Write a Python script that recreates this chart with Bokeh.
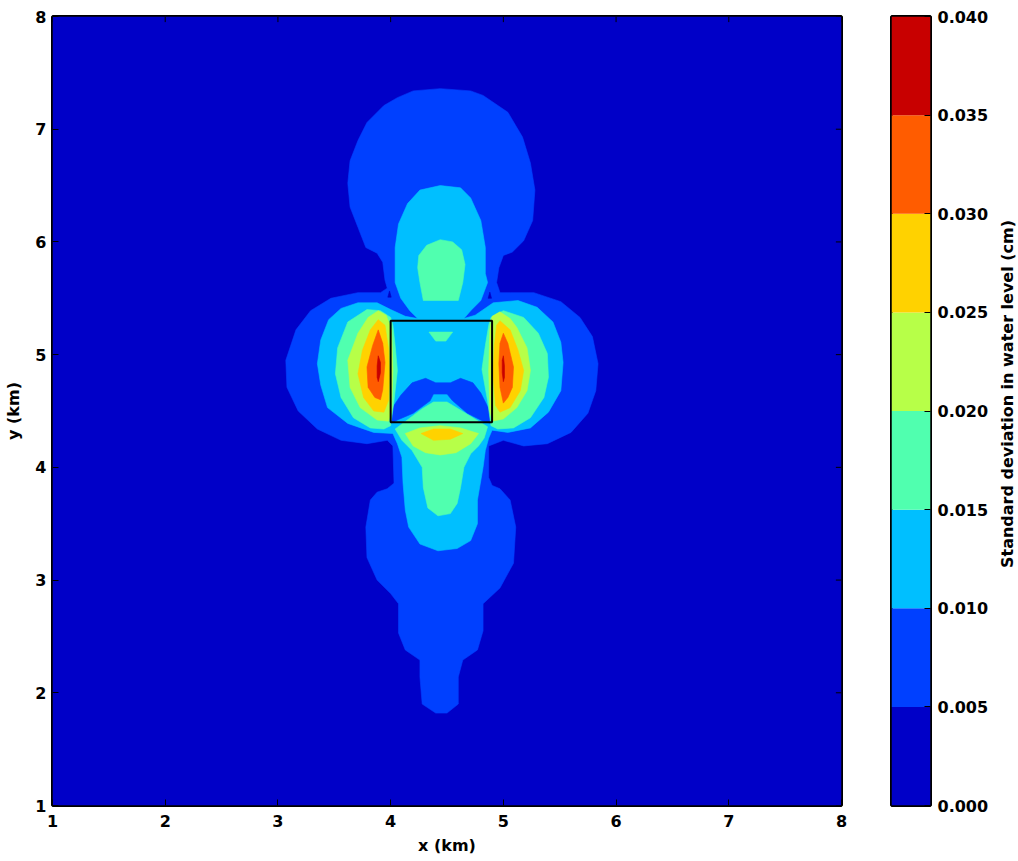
import math
from bokeh.plotting import figure
from bokeh.layouts import row
from bokeh.models import FixedTicker, NumeralTickFormatter, Range1d
from bokeh.core.properties import value
from bokeh.embed import file_html
from bokeh.resources import INLINE

# ---------------- data ----------------
levels = [0.000, 0.005, 0.010, 0.015, 0.020, 0.025, 0.030, 0.035, 0.040]
level_colors = ["#0000c8", "#0040ff", "#00bfff", "#50ffaf", "#b7ff48", "#ffd200", "#ff5c00", "#c80000"]
x_ticks = [1, 2, 3, 4, 5, 6, 7, 8]
y_ticks = [1, 2, 3, 4, 5, 6, 7, 8]
domain_x = [1.0, 8.0]
domain_y = [1.0, 8.0]
box_x = [4.0, 4.9]
box_y = [4.4, 5.3]
colorbar_title = "Standard deviation in water level (cm)"

# contour region >= 0.005
lvl1_x = [4.20, 4.06, 3.94, 3.79, 3.71, 3.64, 3.62, 3.64, 3.71, 3.78, 3.88, 3.93, 3.95, 3.97, 3.91, 3.71, 3.47, 3.29, 3.16, 3.07, 3.08, 3.18, 3.35, 3.56, 3.79, 3.97, 4.02, 4.03, 3.97, 3.88, 3.82, 3.78, 3.79, 3.88, 4.00, 4.07, 4.07, 4.13, 4.26, 4.26, 4.28, 4.40, 4.50, 4.60, 4.60, 4.64, 4.77, 4.82, 4.82, 4.97, 5.09, 5.11, 5.06, 4.97, 4.90, 4.87, 4.87, 5.00, 5.18, 5.39, 5.60, 5.75, 5.82, 5.84, 5.79, 5.68, 5.51, 5.27, 5.06, 4.97, 4.94, 4.96, 5.00, 5.08, 5.18, 5.26, 5.28, 5.24, 5.17, 5.04, 4.82, 4.71, 4.44]
lvl1_y = [7.34, 7.28, 7.21, 7.06, 6.90, 6.72, 6.52, 6.31, 6.13, 5.95, 5.90, 5.82, 5.66, 5.59, 5.55, 5.55, 5.50, 5.39, 5.22, 4.95, 4.71, 4.50, 4.34, 4.24, 4.21, 4.24, 4.19, 3.86, 3.81, 3.78, 3.71, 3.47, 3.20, 3.00, 2.88, 2.79, 2.53, 2.38, 2.29, 2.14, 1.90, 1.82, 1.82, 1.90, 2.14, 2.29, 2.38, 2.55, 2.79, 2.93, 3.15, 3.47, 3.71, 3.81, 3.84, 3.91, 4.19, 4.24, 4.19, 4.21, 4.31, 4.48, 4.68, 4.92, 5.16, 5.33, 5.47, 5.55, 5.55, 5.55, 5.64, 5.77, 5.88, 5.91, 6.01, 6.19, 6.46, 6.70, 6.93, 7.15, 7.30, 7.34, 7.36]
# small pockets < 0.005 inside it
hole0a_x = [3.99, 3.975, 4.005]
hole0a_y = [5.565, 5.51, 5.51]
hole0b_x = [4.88, 4.865, 4.895]
hole0b_y = [5.555, 5.50, 5.50]

# contour region >= 0.010
lvl2_x = [4.44, 4.62, 4.71, 4.80, 4.84, 4.84, 4.86, 4.80, 4.71, 4.65, 4.75, 4.91, 5.13, 5.30, 5.44, 5.51, 5.53, 5.51, 5.40, 5.24, 5.04, 4.90, 4.87, 4.84, 4.82, 4.77, 4.77, 4.71, 4.59, 4.42, 4.26, 4.16, 4.13, 4.11, 4.10, 4.06, 4.02, 3.85, 3.62, 3.44, 3.38, 3.35, 3.38, 3.45, 3.56, 3.71, 3.88, 4.00, 4.13, 4.24, 4.17, 4.09, 4.04, 4.04, 4.07, 4.15, 4.26]
lvl2_y = [6.50, 6.48, 6.39, 6.19, 5.95, 5.72, 5.64, 5.48, 5.39, 5.32, 5.35, 5.46, 5.48, 5.42, 5.29, 5.11, 4.93, 4.68, 4.49, 4.35, 4.31, 4.33, 4.26, 4.15, 4.00, 3.71, 3.50, 3.35, 3.28, 3.26, 3.32, 3.47, 3.62, 3.86, 4.09, 4.21, 4.30, 4.31, 4.39, 4.53, 4.73, 4.92, 5.13, 5.31, 5.41, 5.46, 5.46, 5.40, 5.34, 5.32, 5.39, 5.50, 5.64, 5.95, 6.16, 6.34, 6.46]
# pocket 0.005-0.010 inside the box
hole1_x = [4.19, 4.31, 4.40, 4.53, 4.62, 4.73, 4.80, 4.87, 4.89, 4.82, 4.68, 4.55, 4.50, 4.38, 4.35, 4.20, 4.06, 4.00, 4.01, 4.09]
hole1_y = [4.75, 4.79, 4.75, 4.75, 4.79, 4.75, 4.66, 4.52, 4.39, 4.41, 4.48, 4.59, 4.65, 4.65, 4.59, 4.48, 4.42, 4.39, 4.52, 4.64]

# contour regions >= 0.015
lvl3_top_x = [4.44, 4.55, 4.63, 4.66, 4.64, 4.60, 4.29, 4.26, 4.24, 4.25, 4.32]
lvl3_top_y = [6.02, 6.00, 5.93, 5.80, 5.64, 5.48, 5.48, 5.64, 5.77, 5.88, 5.97]
lvl3_box_x = [4.34, 4.55, 4.49, 4.40]
lvl3_box_y = [5.20, 5.20, 5.12, 5.12]
lvl3_left_x = [4.00, 3.91, 3.79, 3.62, 3.53, 3.51, 3.56, 3.67, 3.82, 3.94, 4.00, 4.03, 4.06, 4.04, 4.02]
lvl3_left_y = [5.33, 5.39, 5.40, 5.29, 5.06, 4.83, 4.62, 4.44, 4.35, 4.34, 4.37, 4.59, 4.86, 5.08, 5.26]
lvl3_right_x = [4.89, 5.00, 5.18, 5.31, 5.39, 5.40, 5.36, 5.24, 5.09, 4.95, 4.89, 4.86, 4.81, 4.84, 4.87]
lvl3_right_y = [5.33, 5.39, 5.33, 5.19, 5.01, 4.80, 4.62, 4.44, 4.35, 4.34, 4.37, 4.59, 4.87, 5.08, 5.26]
lvl3_bot_x = [4.38, 4.50, 4.60, 4.73, 4.86, 4.83, 4.78, 4.71, 4.65, 4.62, 4.59, 4.53, 4.42, 4.33, 4.29, 4.28, 4.19, 4.10, 4.04, 4.16, 4.28]
lvl3_bot_y = [4.58, 4.58, 4.52, 4.44, 4.36, 4.26, 4.19, 4.12, 4.00, 3.82, 3.68, 3.59, 3.57, 3.64, 3.82, 4.00, 4.15, 4.24, 4.34, 4.43, 4.52]

# contour regions >= 0.020
lvl4_left_x = [3.89, 3.96, 4.01, 4.02, 4.01, 3.98, 3.88, 3.73, 3.64, 3.62, 3.71, 3.80]
lvl4_left_y = [5.39, 5.35, 5.22, 4.86, 4.50, 4.41, 4.42, 4.53, 4.71, 4.95, 5.19, 5.33]
lvl4_right_x = [4.97, 5.06, 5.12, 5.21, 5.24, 5.21, 5.12, 5.00, 4.90, 4.88, 4.87, 4.88, 4.90]
lvl4_right_y = [5.38, 5.32, 5.24, 5.06, 4.86, 4.68, 4.53, 4.43, 4.41, 4.50, 4.86, 5.22, 5.34]
lvl4_bot_x = [4.13, 4.26, 4.44, 4.62, 4.78, 4.71, 4.58, 4.44, 4.31, 4.20]
lvl4_bot_y = [4.30, 4.35, 4.37, 4.35, 4.30, 4.21, 4.13, 4.11, 4.13, 4.19]

# contour regions >= 0.025
lvl5_left_x = [3.89, 3.95, 3.98, 3.99, 3.98, 3.94, 3.85, 3.76, 3.71, 3.75, 3.82]
lvl5_left_y = [5.31, 5.26, 5.06, 4.81, 4.59, 4.49, 4.50, 4.62, 4.83, 5.04, 5.22]
lvl5_right_x = [4.97, 5.06, 5.13, 5.18, 5.15, 5.06, 4.97, 4.93, 4.91, 4.92, 4.94]
lvl5_right_y = [5.30, 5.22, 5.04, 4.86, 4.68, 4.53, 4.49, 4.55, 4.82, 5.08, 5.26]
lvl5_bot_x = [4.27, 4.38, 4.53, 4.64, 4.53, 4.38]
lvl5_bot_y = [4.30, 4.34, 4.34, 4.30, 4.25, 4.24]

# contour regions >= 0.030
lvl6_left_x = [3.89, 3.93, 3.95, 3.93, 3.91, 3.86, 3.80, 3.79, 3.84]
lvl6_left_y = [5.22, 5.10, 4.93, 4.69, 4.60, 4.62, 4.71, 4.89, 5.08]
lvl6_right_x = [5.00, 5.04, 5.09, 5.08, 5.04, 5.00, 4.97, 4.96, 4.97]
lvl6_right_y = [5.19, 5.10, 4.89, 4.71, 4.62, 4.57, 4.71, 4.92, 5.10]

# contour regions >= 0.035
lvl7_left_x = [3.89, 3.91, 3.91, 3.89, 3.88, 3.88]
lvl7_left_y = [4.99, 4.93, 4.84, 4.76, 4.80, 4.90]
lvl7_right_x = [5.00, 5.01, 5.01, 5.00, 4.99, 4.99]
lvl7_right_y = [4.99, 4.90, 4.80, 4.76, 4.84, 4.95]

# draw order: (xs, ys, band index)
regions = [
    (lvl1_x, lvl1_y, 1),
    (hole0a_x, hole0a_y, 0),
    (hole0b_x, hole0b_y, 0),
    (lvl2_x, lvl2_y, 2),
    (hole1_x, hole1_y, 1),
    (lvl3_top_x, lvl3_top_y, 3),
    (lvl3_box_x, lvl3_box_y, 3),
    (lvl3_left_x, lvl3_left_y, 3),
    (lvl3_right_x, lvl3_right_y, 3),
    (lvl3_bot_x, lvl3_bot_y, 3),
    (lvl4_left_x, lvl4_left_y, 4),
    (lvl4_right_x, lvl4_right_y, 4),
    (lvl4_bot_x, lvl4_bot_y, 4),
    (lvl5_left_x, lvl5_left_y, 5),
    (lvl5_right_x, lvl5_right_y, 5),
    (lvl5_bot_x, lvl5_bot_y, 5),
    (lvl6_left_x, lvl6_left_y, 6),
    (lvl6_right_x, lvl6_right_y, 6),
    (lvl7_left_x, lvl7_left_y, 7),
    (lvl7_right_x, lvl7_right_y, 7),
]

FONT = "DejaVu Sans"
FS = "16px"
TICK_LEN_KM = 0.05  # length of the inward tick marks on the top and right frame edges
H = 858

# ---------------- main plot ----------------
p = figure(width=851, height=H,
           x_range=Range1d(domain_x[0], domain_x[1]), y_range=Range1d(domain_y[0], domain_y[1]),
           min_border_left=52, min_border_right=10, min_border_top=16, min_border_bottom=53,
           output_backend="svg", toolbar_location=None)
p.background_fill_color = "white"
p.border_fill_color = "white"
p.grid.visible = False

p.quad(left=[domain_x[0]], right=[domain_x[1]], bottom=[domain_y[0]], top=[domain_y[1]],
       fill_color=level_colors[0], line_color=None)
for xs, ys, k in regions:
    p.patch(xs, ys, fill_color=level_colors[k], line_color=level_colors[k], line_width=0.6)

p.quad(left=[box_x[0]], right=[box_x[1]], bottom=[box_y[0]], top=[box_y[1]],
       fill_color=None, line_color="black", line_width=2)

# inward ticks on the top and right edges (mirroring the bottom / left axes)
p.segment(x0=x_ticks, y0=[domain_y[1]] * len(x_ticks),
          x1=x_ticks, y1=[domain_y[1] - TICK_LEN_KM] * len(x_ticks),
          line_color="black", line_width=1)
p.segment(x0=[domain_x[1]] * len(y_ticks), y0=y_ticks,
          x1=[domain_x[1] - TICK_LEN_KM] * len(y_ticks), y1=y_ticks,
          line_color="black", line_width=1)

p.outline_line_color = "black"
p.outline_line_width = 3

p.xaxis.ticker = FixedTicker(ticks=x_ticks)
p.yaxis.ticker = FixedTicker(ticks=y_ticks)
p.xaxis.axis_label = "x (km)"
p.yaxis.axis_label = "y (km)"
for ax in (p.xaxis[0], p.yaxis[0]):
    ax.major_tick_in = 6
    ax.major_tick_out = 0
    ax.major_tick_line_color = "black"
    ax.major_tick_line_width = 1
    ax.minor_tick_line_color = None
    ax.axis_line_color = None
    ax.major_label_text_font = FONT
    ax.major_label_text_font_size = FS
    ax.major_label_text_font_style = "bold"
    ax.major_label_text_color = "black"
    ax.axis_label_text_font = FONT
    ax.axis_label_text_font_size = FS
    ax.axis_label_text_font_style = "bold"
    ax.axis_label_text_color = "black"
p.xaxis.major_label_standoff = 9
p.xaxis.axis_label_standoff = 6
p.yaxis.major_label_standoff = 6
p.yaxis.axis_label_standoff = 9

# ---------------- colorbar ----------------
cb = figure(width=145, height=H,
            x_range=Range1d(0, 1), y_range=Range1d(levels[0], levels[-1]),
            min_border_left=40, min_border_right=66, min_border_top=16, min_border_bottom=53,
            x_axis_location=None, y_axis_location="right",
            output_backend="svg", toolbar_location=None)
cb.grid.visible = False
cb.quad(left=0, right=1, bottom=levels[:-1], top=levels[1:],
        fill_color=level_colors, line_color=None)
cb.outline_line_color = "black"
cb.outline_line_width = 3
ya = cb.yaxis[0]
ya.ticker = FixedTicker(ticks=levels)
ya.formatter = NumeralTickFormatter(format="0.000")
ya.major_tick_in = 6
ya.major_tick_out = 0
ya.major_tick_line_color = "black"
ya.minor_tick_line_color = None
ya.axis_line_color = None
ya.major_label_standoff = 7
ya.major_label_text_font = FONT
ya.major_label_text_font_size = FS
ya.major_label_text_font_style = "bold"
ya.major_label_text_color = "black"

# ---------------- colorbar title (vertical, reads bottom to top) ----------------
lab = figure(width=22, height=H, x_range=Range1d(0, 1), y_range=Range1d(0, H),
             min_border_left=0, min_border_right=0, min_border_top=0, min_border_bottom=0,
             x_axis_location=None, y_axis_location=None,
             output_backend="svg", toolbar_location=None)
lab.grid.visible = False
lab.outline_line_color = None
lab.background_fill_color = "white"
lab.border_fill_color = "white"
# vertical centre of the colorbar frame (bottom border 53, frame 789 tall)
lab.text(x=[0.5], y=[53 + 789 / 2], text=[colorbar_title], angle=math.pi / 2,
         text_align="center", text_baseline="middle",
         text_font=value(FONT), text_font_size=value(FS), text_font_style=value("bold"),
         text_color="black")

layout = row(p, cb, lab, spacing=0)
open("out.html", "w").write(file_html(layout, INLINE))
